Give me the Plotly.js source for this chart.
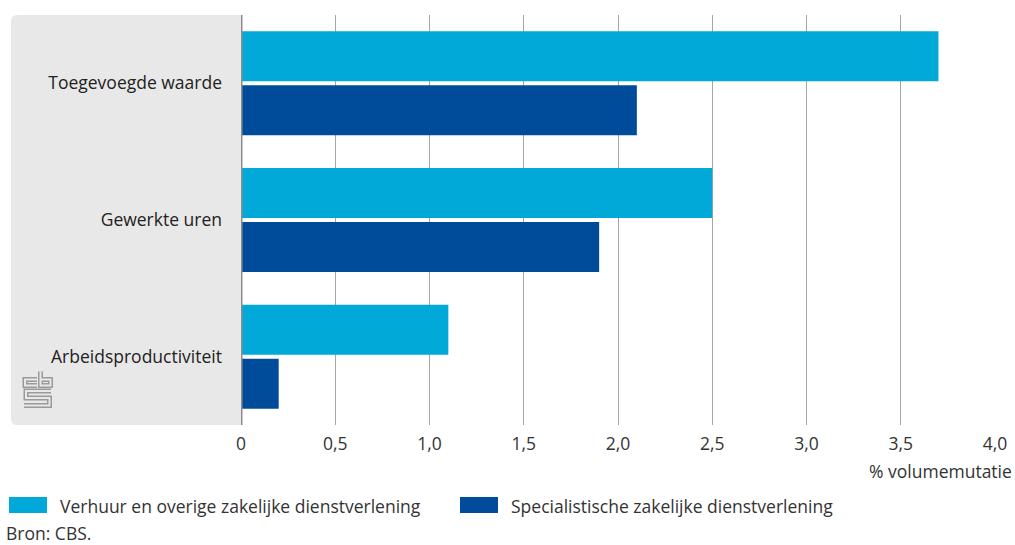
<!DOCTYPE html>
<html><head><meta charset="utf-8">
<script src="https://cdn.plot.ly/plotly-3.0.1.min.js"></script>
<style>body{margin:0;padding:0;background:#fff}#chart{width:1015px;height:545px}</style>
</head><body><div id="chart"></div>
<script>
const categories = ["Toegevoegde waarde", "Gewerkte uren", "Arbeidsproductiviteit"];
const seriesNames = ["Verhuur en overige zakelijke dienstverlening", "Specialistische zakelijke dienstverlening"];
const verhuurValues = [3.7, 2.5, 1.1];
const specialistischValues = [2.1, 1.9, 0.2];
const tickValues = [0, 0.5, 1, 1.5, 2, 2.5, 3, 3.5, 4];
const tickLabels = ["0", "0,5", "1,0", "1,5", "2,0", "2,5", "3,0", "3,5", "4,0"];
const axisTitle = "% volumemutatie";
const sourceText = "Bron: CBS.";

const W = 1015, H = 545, L = 241, R = 20, T = 15, B = 120;
const pw = W - L - R, ph = H - T - B;
const px = v => (v - L) / pw;
const py = v => (H - B - v) / ph;
const FONT = "Open Sans, sans-serif";
const FS = 17.5;
const colors = ["#00a9d8", "#004c9b"];

const traces = [
  {type: "bar", orientation: "h", name: seriesNames[0], y: categories, x: verhuurValues,
   marker: {color: colors[0]}, hoverinfo: "x+y", showlegend: false},
  {type: "bar", orientation: "h", name: seriesNames[1], y: categories, x: specialistischValues,
   marker: {color: colors[1]}, hoverinfo: "x+y", showlegend: false}
];

const r = 6, x0p = 11, x1p = 241, y0p = 15, y1p = 425;
const panelPath = `M ${px(x1p)},${py(y0p)} L ${px(x0p + r)},${py(y0p)} Q ${px(x0p)},${py(y0p)} ${px(x0p)},${py(y0p + r)} L ${px(x0p)},${py(y1p - r)} Q ${px(x0p)},${py(y1p)} ${px(x0p + r)},${py(y1p)} L ${px(x1p)},${py(y1p)} Z`;

function pathPx(pts) {
  return pts.map((p, i) => (i ? "L " : "M ") + px(p[0]) + "," + py(p[1])).join(" ");
}
const logoPaths = [
  [[37, 379.5], [25, 379.5], [25, 385.5], [37, 385.5]],
  [[40.5, 371.5], [40.5, 385.5], [50.5, 385.5], [50.5, 379.5], [40.5, 379.5]],
  [[51, 391], [26, 391], [26, 398], [49.5, 398], [49.5, 405.5], [24, 405.5]]
];
const shapes = [
  {type: "path", xref: "paper", yref: "paper", path: panelPath, fillcolor: "#e8e8e8", line: {width: 0}, layer: "below"}
];
logoPaths.forEach(p => {
  shapes.push({type: "path", xref: "paper", yref: "paper", path: pathPx(p), line: {color: "#9a9a9a", width: 5}, layer: "above"});
});
logoPaths.forEach(p => {
  shapes.push({type: "path", xref: "paper", yref: "paper", path: pathPx(p), line: {color: "#e8e8e8", width: 2}, layer: "above"});
});
const legendItems = [{sx: 9, tx: 60}, {sx: 460, tx: 511}];
legendItems.forEach((it, i) => {
  shapes.push({type: "rect", xref: "paper", yref: "paper", x0: px(it.sx), x1: px(it.sx + 38), y0: py(513), y1: py(497),
    fillcolor: colors[i], line: {width: 0}});
});

const annotations = [
  {xref: "paper", yref: "paper", x: px(1014), y: py(471), xanchor: "right", yanchor: "middle", text: axisTitle,
   showarrow: false, font: {family: FONT, size: FS, color: "#333"}},
  {xref: "paper", yref: "paper", x: px(5), y: py(533), xanchor: "left", yanchor: "middle", text: sourceText,
   showarrow: false, borderpad: 0, font: {family: FONT, size: FS, color: "#333"}}
];
legendItems.forEach((it, i) => {
  annotations.push({xref: "paper", yref: "paper", x: px(it.tx - 2), y: py(506), xanchor: "left", yanchor: "middle",
    text: seriesNames[i], showarrow: false, font: {family: FONT, size: FS, color: "#333"}});
});

const layout = {
  width: W, height: H,
  margin: {l: L, r: R, t: T, b: B, pad: 0},
  paper_bgcolor: "#fff", plot_bgcolor: "rgba(0,0,0,0)",
  separators: ",.",
  barmode: "group", bargap: 0.21, bargroupgap: 0.074,
  font: {family: FONT, size: FS, color: "#333"},
  xaxis: {range: [0, 4], tickvals: tickValues, ticktext: tickLabels, showgrid: true, gridcolor: "#a6a6a6", gridwidth: 1,
    zeroline: false, showline: false, ticks: "", ticklabelstandoff: 6, tickfont: {family: FONT, size: FS, color: "#333"}, fixedrange: true},
  yaxis: {autorange: "reversed", showgrid: false, zeroline: false, showline: false, ticks: "", ticklabelstandoff: 18,
    tickfont: {family: FONT, size: FS, color: "#222"}, fixedrange: true},
  shapes: shapes.concat([
    {type: "line", xref: "x", yref: "paper", x0: 0, x1: 0, y0: 0, y1: 1, line: {color: "#8c8c8c", width: 3}, layer: "above"}
  ]),
  annotations: annotations,
  showlegend: false
};
Plotly.newPlot("chart", traces, layout, {displayModeBar: false, staticPlot: true});
</script></body></html>
